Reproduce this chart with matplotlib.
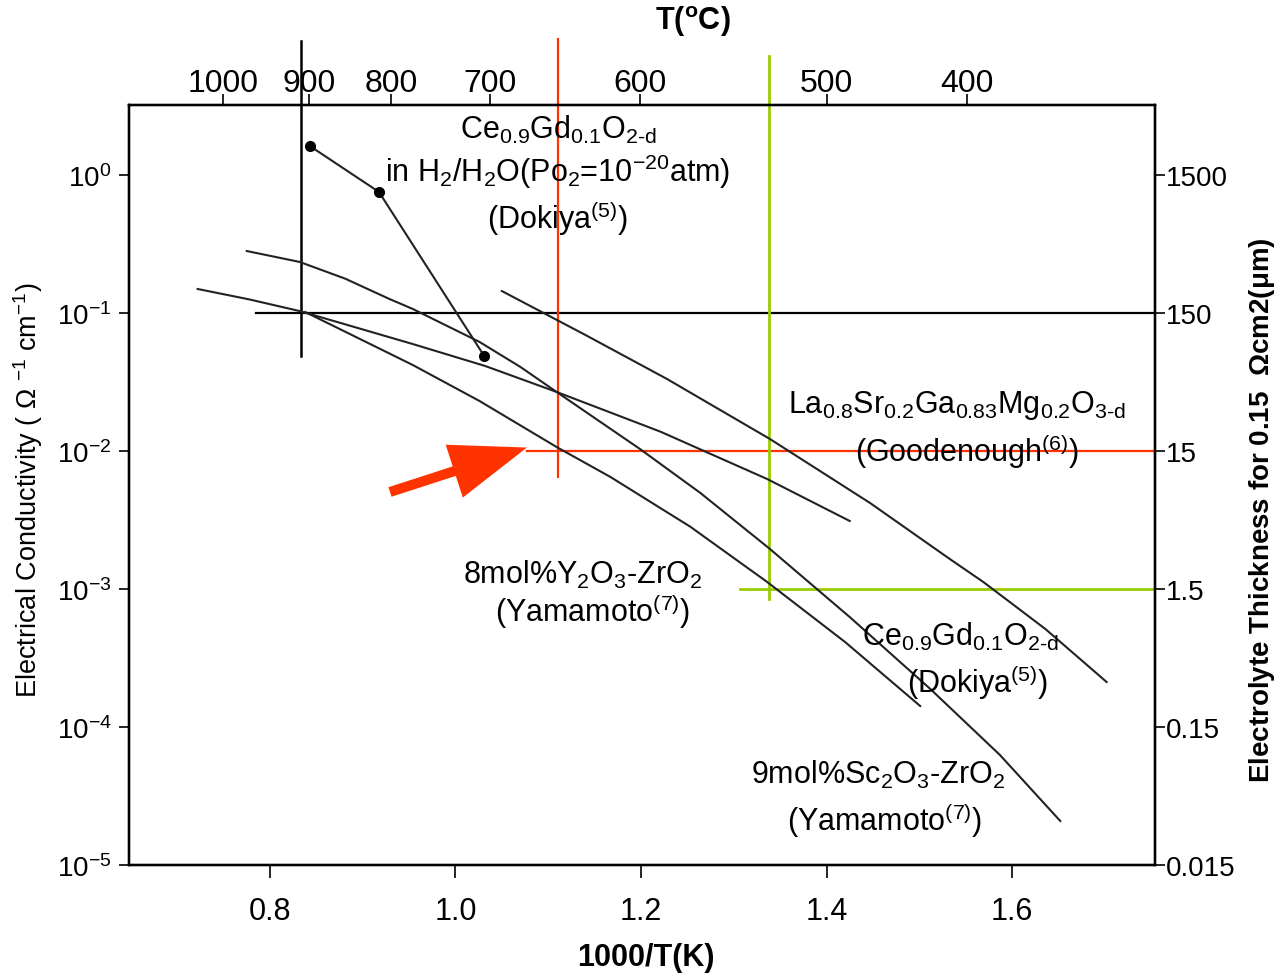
import matplotlib
matplotlib.use("Agg")
import matplotlib.pyplot as plt
import numpy as np

plt.rcParams['font.family'] = ['Liberation Sans', 'DejaVu Sans']
plt.rcParams['mathtext.fontset'] = 'custom'
plt.rcParams['mathtext.rm'] = 'Liberation Sans'
plt.rcParams['mathtext.it'] = 'Liberation Sans:italic'
plt.rcParams['mathtext.bf'] = 'Liberation Sans:bold'
plt.rcParams['mathtext.default'] = 'regular'

# conductivity curves, x = 1000/T(K), y = log10(sigma / S cm-1)
scsz_x = [0.775, 0.832, 0.881, 0.929, 0.954, 1.026, 1.070, 1.109, 1.199, 1.264,
          1.339, 1.425, 1.512, 1.587, 1.652]
scsz_logy = [-0.551, -0.630, -0.751, -0.899, -0.971, -1.210, -1.391, -1.572, -1.986, -2.304,
             -2.710, -3.203, -3.725, -4.203, -4.681]

cgo_x = [0.722, 0.778, 0.832, 0.954, 1.032, 1.109, 1.221, 1.336, 1.425]
cgo_logy = [-0.826, -0.902, -0.986, -1.225, -1.384, -1.572, -1.860, -2.203, -2.507]

ysz_x = [0.838, 0.954, 1.026, 1.109, 1.167, 1.253, 1.336, 1.420, 1.501]
ysz_logy = [-0.993, -1.377, -1.638, -1.971, -2.188, -2.548, -2.949, -3.384, -3.848]

lsgm_x = [1.050, 1.140, 1.228, 1.339, 1.447, 1.533, 1.569, 1.636, 1.702]
lsgm_logy = [-0.841, -1.159, -1.478, -1.913, -2.377, -2.783, -2.949, -3.290, -3.674]

cgo_h2_x = [0.843, 0.9175, 1.031]
cgo_h2_logy = [0.210, -0.123, -1.312]

# top axis T(C) ticks as placed in the original figure
top_pos = [0.749, 0.842, 0.931, 1.037, 1.199, 1.400, 1.551]
top_labels = ['1000', '900', '800', '700', '600', '500', '400']

left_ticks = [1e0, 1e-1, 1e-2, 1e-3, 1e-4, 1e-5]
right_ticks = [1500, 150, 15, 1.5, 0.15, 0.015]
right_labels = ['1500', '150', '15', '1.5', '0.15', '0.015']

RED = '#FF3300'
GREEN = '#99CC00'
LINE = '#222222'

xlim = (0.6485, 1.7542)
ylim = (1e-5, 10 ** 0.507)

fig = plt.figure(figsize=(12.79, 9.78), dpi=100)
ax = fig.add_axes([0.1012, 0.1145, 0.8019, 0.7771])
ax.set_yscale('log')
ax.set_xlim(xlim)
ax.set_ylim(ylim)

for xs, ly in [(scsz_x, scsz_logy), (cgo_x, cgo_logy), (ysz_x, ysz_logy), (lsgm_x, lsgm_logy)]:
    ax.plot(xs, 10 ** np.array(ly), color=LINE, lw=1.5, zorder=3)
ax.plot(cgo_h2_x, 10 ** np.array(cgo_h2_logy), color=LINE, lw=1.5, marker='o', ms=7,
        mfc='black', mec='black', zorder=3)

# guide lines
ax.plot([0.8334, 0.8334], [9.35, 0.0488], color='black', lw=1.8, clip_on=False, zorder=2)
ax.plot([0.785, xlim[1]], [0.1, 0.1], color='black', lw=1.6, zorder=2)
ax.plot([1.1105, 1.1105], [9.68, 0.00648], color=RED, lw=1.6, clip_on=False, zorder=2)
ax.plot([1.077, xlim[1]], [0.01, 0.01], color=RED, lw=1.6, zorder=2)
ax.plot([1.338, 1.338], [7.28, 8.47e-4], color=GREEN, lw=2.0, clip_on=False, zorder=2)
ax.plot([1.307, xlim[1]], [1e-3, 1e-3], color=GREEN, lw=2.0, zorder=2)

ax.annotate('', xy=(1.077, 10 ** -1.975), xytext=(0.9294, 10 ** -2.297),
            arrowprops=dict(arrowstyle='simple,head_length=2.75,head_width=2.0,tail_width=0.36',
                            fc=RED, ec='none', shrinkA=0, shrinkB=0, mutation_scale=20))

# labels
fs = 22
ax.text(1.1105, 2.15, r'Ce$_{0.9}$Gd$_{0.1}$O$_{2\text{-}d}$', ha='center', va='center', fontsize=fs)
ax.text(1.1105, 1.07, r'in H$_2$/H$_2$O(Po$_2$=10$^{-20}$atm)', ha='center', va='center', fontsize=fs)
ax.text(1.1105, 0.496, r'(Dokiya$^{(5)}$)', ha='center', va='center', fontsize=fs)

ax.text(1.5407, 0.0219, r'La$_{0.8}$Sr$_{0.2}$Ga$_{0.83}$Mg$_{0.2}$O$_{3\text{-}d}$', ha='center', va='center', fontsize=fs)
ax.text(1.5515, 0.0100, r'(Goodenough$^{(6)}$)', ha='center', va='center', fontsize=fs)

ax.text(1.1375, 0.00128, r'8mol%Y$_2$O$_3$-ZrO$_2$', ha='center', va='center', fontsize=fs)
ax.text(1.1483, 6.93e-4, r'(Yamamoto$^{(7)}$)', ha='center', va='center', fontsize=fs)

ax.text(1.5439, 4.56e-4, r'Ce$_{0.9}$Gd$_{0.1}$O$_{2\text{-}d}$', ha='center', va='center', fontsize=fs)
ax.text(1.5633, 2.15e-4, r'(Dokiya$^{(5)}$)', ha='center', va='center', fontsize=fs)

ax.text(1.4555, 4.56e-5, r'9mol%Sc$_2$O$_3$-ZrO$_2$', ha='center', va='center', fontsize=fs)
ax.text(1.4631, 2.15e-5, r'(Yamamoto$^{(7)}$)', ha='center', va='center', fontsize=fs)

# axes styling
for s in ax.spines.values():
    s.set_linewidth(1.6)

ax.set_xticks([0.8, 1.0, 1.2, 1.4, 1.6])
ax.set_xticklabels(['0.8', '1.0', '1.2', '1.4', '1.6'], fontsize=22)
ax.tick_params(axis='x', direction='out', length=9, width=1.2, pad=13)
ax.set_yticks(left_ticks)
ax.minorticks_off()
ax.tick_params(axis='y', direction='out', length=7, width=1.2, pad=6, labelsize=20)
ax.yaxis.get_major_ticks()[0].tick1line.set_visible(False)

tax = ax.twiny()
tax.set_xlim(xlim)
tax.set_xticks(top_pos)
tax.set_xticklabels(top_labels, fontsize=23)
tax.tick_params(axis='x', direction='out', length=8, width=1.2, pad=-3)

rax = ax.twinx()
rax.set_yscale('log')
rax.set_ylim(ylim[0] * 1500, ylim[1] * 1500)
rax.set_yticks(right_ticks)
rax.set_yticklabels(right_labels)
rax.minorticks_off()
rax.tick_params(axis='y', direction='out', length=7, width=1.2, pad=1, labelsize=20)
rt = rax.yaxis.get_major_ticks()
rt[2].tick2line.set_color(RED)
rt[3].tick2line.set_color(GREEN)
for a in (tax, rax):
    for s in a.spines.values():
        s.set_linewidth(1.6)

fig.text(646 / 1279, 1 - 958 / 978, '1000/T(K)', ha='center', va='center',
         fontsize=22, fontweight='bold')
fig.text(693 / 1279, 1 - 22 / 978, r'T($^{\mathbf{o}}$C)', ha='center', va='center',
         fontsize=22, fontweight='bold')
fig.text(28 / 1279, 1 - 490 / 978, r'Electrical Conductivity ( $\Omega$ $^{-1}$ cm$^{-1}$)',
         ha='center', va='center', rotation=90, fontsize=19.5)
fig.text(1262 / 1279, 1 - 510 / 978, r'Electrolyte Thickness for 0.15  $\mathbf{\Omega}$cm2($\mathbf{\mu}$m)',
         ha='center', va='center', rotation=90, fontsize=20, fontweight='bold')

fig.savefig('out.png', dpi=100)
